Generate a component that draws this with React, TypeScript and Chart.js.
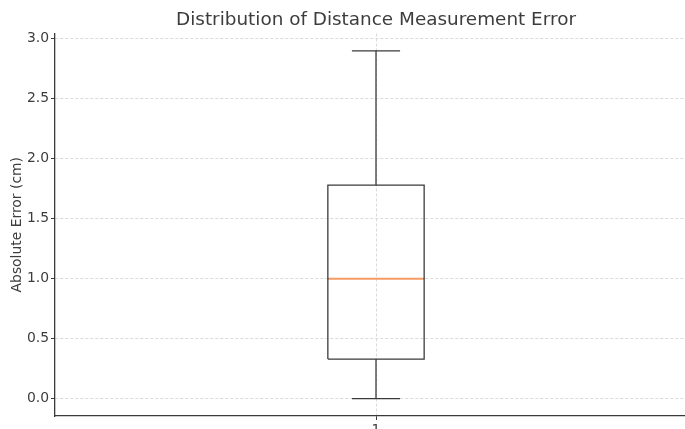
import React, { useEffect, useRef } from "react";
import { Chart, registerables } from "chart.js";

Chart.register(...registerables);

// ---- data ----
const boxPositions = [1];
const boxWidths = [0.15];
const whiskerLow = [0.0];
const quartile1 = [0.33];
const medians = [1.0];
const quartile3 = [1.78];
const whiskerHigh = [2.9];
const yTickValues = [0, 0.5, 1.0, 1.5, 2.0, 2.5, 3.0];
const xTickValues = [1];
const xTickLabels = ["1"];

const titleText = "Distribution of Distance Measurement Error";
const yTitle = "Absolute Error (cm)";

const LINE = "#3a3a3a";
const MEDIAN = "#f59a62";
const GRID = "#d0d0d0";
const TEXT = "#3d3d3d";

function buildDatasets() {
  const ds: any[] = [];
  const seg = (pts: { x: number; y: number }[], color: string, width: number) => ({
    type: "scatter",
    data: pts,
    showLine: true,
    borderColor: color,
    backgroundColor: color,
    borderWidth: width,
    pointRadius: 0,
    pointHoverRadius: 0,
    tension: 0,
    borderJoinStyle: "miter",
    borderCapStyle: "butt",
    fill: false,
  });
  boxPositions.forEach((p, i) => {
    const h = boxWidths[i] / 2;
    const c = boxWidths[i] / 4;
    ds.push(
      seg(
        [
          { x: p - h, y: quartile1[i] },
          { x: p + h, y: quartile1[i] },
          { x: p + h, y: quartile3[i] },
          { x: p - h, y: quartile3[i] },
          { x: p - h, y: quartile1[i] },
        ],
        LINE,
        1.3
      )
    );
    ds.push(seg([{ x: p, y: quartile1[i] }, { x: p, y: whiskerLow[i] }], LINE, 1.3));
    ds.push(seg([{ x: p, y: quartile3[i] }, { x: p, y: whiskerHigh[i] }], LINE, 1.3));
    ds.push(seg([{ x: p - c, y: whiskerLow[i] }, { x: p + c, y: whiskerLow[i] }], LINE, 1.3));
    ds.push(seg([{ x: p - c, y: whiskerHigh[i] }, { x: p + c, y: whiskerHigh[i] }], LINE, 1.3));
    ds.push(seg([{ x: p - h, y: medians[i] }, { x: p + h, y: medians[i] }], MEDIAN, 2));
  });
  return ds;
}

export default function App() {
  const ref = useRef<HTMLCanvasElement | null>(null);
  useEffect(() => {
    if (!ref.current) return;
    Chart.defaults.font.family = "'DejaVu Sans', sans-serif";
    const yMin = Math.min(...whiskerLow);
    const yMax = Math.max(...whiskerHigh);
    const margin = (yMax - yMin) * 0.05;
    const chart = new Chart(ref.current, {
      type: "scatter",
      data: { datasets: buildDatasets() },
      options: {
        animation: false,
        responsive: false,
        events: [],
        layout: { padding: { left: 0, right: 3, top: 0, bottom: 0 } },
        plugins: {
          legend: { display: false },
          tooltip: { enabled: false },
          title: {
            display: true,
            fullSize: false,
            text: titleText,
            color: TEXT,
            font: { size: 18.4, weight: "normal" },
            padding: { top: 9, bottom: 2.4 },
          },
        },
        scales: {
          x: {
            type: "linear",
            min: 0.5,
            max: 1.5,
            afterBuildTicks: (s: any) => {
              s.ticks = xTickValues.map((v) => ({ value: v }));
            },
            afterFit: (s: any) => {
              s.height = 13;
            },
            ticks: {
              color: TEXT,
              font: { size: 13.9 },
              padding: 2,
              callback: (v: any) => {
                const i = xTickValues.indexOf(Number(v));
                return i >= 0 ? xTickLabels[i] : "";
              },
            },
            grid: {
              color: GRID,
              lineWidth: 0.8,
              tickLength: 4,
              tickColor: LINE,
              tickWidth: 1,
              tickBorderDash: [],
            },
            border: { display: true, color: LINE, width: 1.3, dash: [3, 2] },
          },
          y: {
            type: "linear",
            min: yMin - margin,
            max: yMax + margin,
            afterBuildTicks: (s: any) => {
              s.ticks = yTickValues.map((v) => ({ value: v }));
            },
            afterFit: (s: any) => {
              s.width = 55;
            },
            ticks: {
              color: TEXT,
              font: { size: 13.9 },
              padding: 2,
              callback: (v: any) => Number(v).toFixed(1),
            },
            title: {
              display: true,
              text: yTitle,
              color: TEXT,
              font: { size: 13.9 },
              padding: { top: 9, bottom: 0 },
            },
            grid: {
              color: GRID,
              lineWidth: 0.8,
              tickLength: 4,
              tickColor: LINE,
              tickWidth: 1,
              tickBorderDash: [],
            },
            border: { display: true, color: LINE, width: 1.3, dash: [3, 2] },
          },
        },
      } as any,
    });
    return () => chart.destroy();
  }, []);
  return (
    <div
      style={{
        position: "fixed",
        left: 0,
        top: 0,
        width: 685,
        height: 429,
        overflow: "hidden",
        background: "#fff",
      }}
    >
      <canvas ref={ref} width={700} height={429} style={{ display: "block" }} />
    </div>
  );
}
